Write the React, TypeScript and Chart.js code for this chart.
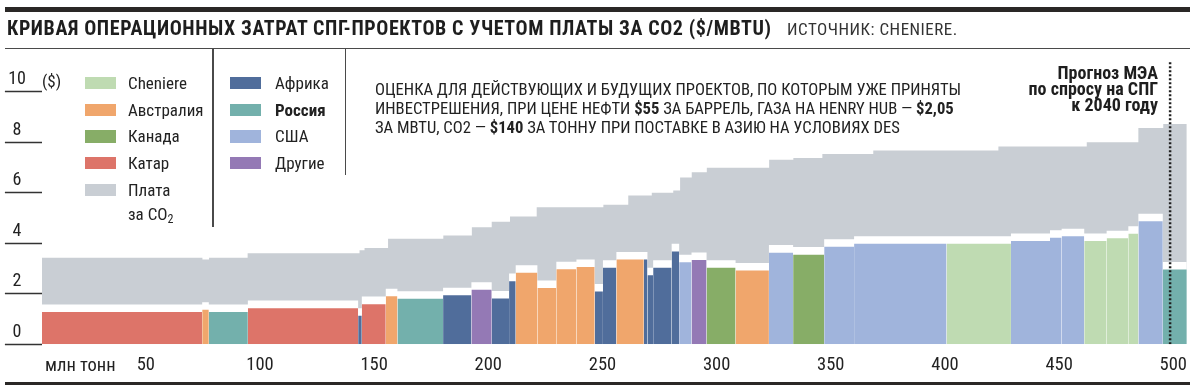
import React, { useEffect, useRef } from 'react';
import { Chart, registerables } from 'chart.js';

Chart.register(...registerables);

const FONT = "'Liberation Sans Narrow', 'Arial Narrow', 'Roboto Condensed', 'DejaVu Sans Condensed', sans-serif";

// Regions (legend order)
const regionNames = ['Cheniere', 'Австралия', 'Канада', 'Катар', 'Африка', 'Россия', 'США', 'Другие'];
const regionColors = ['#bfdbb2', '#f0a66c', '#87ad67', '#dd7469', '#506d9b', '#73b0ac', '#a0b4dc', '#9479b5'];
const co2Label = 'Плата за CO2';
const co2Color = '#c9ced4';

// Projects, left to right along the cost curve
const curveStart = 4.5; // млн тонн
const projectRegion = [3, 1, 5, 3, 4, 3, 1, 5, 4, 7, 4, 4, 1, 1, 1, 1, 4, 4, 1, 4, 4, 4, 4, 6, 7, 2, 1, 6, 2, 6, 6, 0, 6, 6, 6, 0, 0, 0, 6, 5];
const projectCapacity = [70.2, 2.9, 17.1, 48.3, 1.6, 10.5, 5.1, 20.0, 12.4, 8.9, 7.6, 2.9, 9.5, 8.3, 8.8, 8.0, 3.6, 5.9, 12.0, 1.6, 2.5, 8.1, 3.3, 5.4, 6.6, 12.7, 14.6, 10.6, 13.6, 13.1, 40.5, 28.2, 17.1, 5.1, 9.9, 9.8, 9.5, 4.4, 10.7, 10.5];
const projectOpex = [1.28, 1.37, 1.28, 1.43, 1.13, 1.59, 1.90, 1.80, 1.94, 2.16, 1.81, 2.50, 2.83, 2.23, 2.97, 3.06, 2.09, 3.03, 3.36, 3.36, 2.73, 3.03, 3.68, 3.25, 3.34, 3.03, 2.92, 3.63, 3.55, 3.86, 3.98, 3.98, 4.09, 4.22, 4.28, 4.09, 4.20, 4.38, 4.87, 2.96];

// Total cost incl. CO2 fee (grey step curve)
const co2StepX = [4.5, 74.8, 77.7, 94.6, 143.6, 145.8, 156.1, 180.3, 192.8, 201.5, 209.5, 221.2, 250.4, 261.3, 271.6, 281.0, 284.0, 289.1, 295.7, 323.0, 333.6, 346.3, 368.6, 423.4, 462.1, 484.7, 495.6];
const co2StepTop = [3.43, 3.36, 3.43, 3.61, 3.72, 3.81, 4.18, 4.31, 4.64, 4.85, 5.06, 5.43, 5.53, 5.89, 6.00, 6.09, 6.61, 6.81, 6.99, 7.31, 7.38, 7.54, 7.68, 7.83, 8.00, 8.57, 8.72];
const curveEnd = 505.9;

const demandMark = 498.6; // IEA 2040 demand
const xTickValues = [50, 100, 150, 200, 250, 300, 350, 400, 450, 500];
const yTickValues = [0, 2, 4, 6, 8, 10];
const Y_MAX = 11.2;
const GAP = 0.3; // white separation band (style)

function buildDatasets() {
  const starts: number[] = [];
  let acc = curveStart;
  for (const w of projectCapacity) {
    starts.push(acc);
    acc += w;
  }
  const ends = starts.map((s, i) => s + projectCapacity[i]);

  const grey = co2StepX.map((x, i) => ({ x, y: co2StepTop[i] }));
  grey.push({ x: curveEnd, y: co2StepTop[co2StepTop.length - 1] });

  const white = starts.map((x, i) => ({ x, y: projectOpex[i] + GAP }));
  white.push({ x: ends[ends.length - 1], y: projectOpex[projectOpex.length - 1] + GAP });

  const base = {
    type: 'line' as const,
    pointRadius: 0,
    borderWidth: 0,
    borderColor: 'rgba(0,0,0,0)',
    fill: 'origin' as const,
  };

  const datasets: any[] = [
    { ...base, label: co2Label, data: grey, stepped: 'before', backgroundColor: co2Color, order: 3 },
    { ...base, label: 'gap', data: white, stepped: 'before', backgroundColor: '#ffffff', order: 2 },
  ];

  regionNames.forEach((name, r) => {
    const pts: any[] = [];
    projectRegion.forEach((reg, i) => {
      if (reg !== r) return;
      pts.push({ x: starts[i], y: projectOpex[i] });
      pts.push({ x: ends[i], y: projectOpex[i] });
      pts.push({ x: ends[i], y: null });
    });
    datasets.push({ ...base, label: name, data: pts, backgroundColor: regionColors[r], order: 1, spanGaps: false });
  });

  datasets.push({
    type: 'line',
    label: 'demand',
    data: [{ x: demandMark, y: 0 }, { x: demandMark, y: Y_MAX }],
    borderColor: '#1f1f1f',
    borderWidth: 2.5,
    borderDash: [2, 2],
    pointRadius: 0,
    fill: false,
    order: 0,
  });
  return datasets;
}

const abs = (s: React.CSSProperties): React.CSSProperties => ({ position: 'absolute', whiteSpace: 'nowrap', fontFamily: FONT, color: '#222', ...s });

function LegendItem({ x, tx, baseline, color, label, bold }: { x: number; tx: number; baseline: number; color: string; label: React.ReactNode; bold?: boolean }) {
  return (
    <>
      <div style={abs({ left: x, top: baseline - 12.4, width: 31, height: 12.4, background: color })} />
      <div style={abs({ left: tx, top: baseline - 0.8465 * 17, fontSize: 17, lineHeight: '17px', fontWeight: bold ? 700 : 400 })}>{label}</div>
    </>
  );
}

export default function App() {
  const ref = useRef<HTMLCanvasElement>(null);
  useEffect(() => {
    if (!ref.current) return;
    const chart = new Chart(ref.current, {
      type: 'line',
      data: { datasets: buildDatasets() },
      options: {
        animation: false,
        responsive: false,
        maintainAspectRatio: false,
        events: [],
        layout: { padding: { left: 0, top: 61.5, right: 13, bottom: 14.7 } },
        plugins: { legend: { display: false }, tooltip: { enabled: false } },
        scales: {
          x: {
            type: 'linear',
            min: curveStart,
            max: 506,
            afterBuildTicks: (ax: any) => { ax.ticks = xTickValues.map((v) => ({ value: v })); },
            afterFit: (s: any) => { s.height = 30; },
            grid: { display: false, drawTicks: false },
            border: { display: false },
            ticks: { font: { family: FONT, size: 18.5 }, color: '#222', padding: 10, maxRotation: 0, autoSkip: false },
          },
          y: {
            type: 'linear',
            min: 0,
            max: Y_MAX,
            afterBuildTicks: (ax: any) => { ax.ticks = yTickValues.map((v) => ({ value: v })); },
            afterFit: (s: any) => { s.width = 41.9; },
            grid: { drawOnChartArea: false, drawTicks: true, tickLength: 37, tickWidth: 1.5, tickColor: '#333' },
            border: { display: false },
            ticks: { font: { family: FONT, size: 18 }, color: '#222', padding: -21, crossAlign: 'center', labelOffset: -12 },
          },
        },
      } as any,
    });
    return () => chart.destroy();
  }, []);

  const rows = [89.3, 116, 142.7, 169.3, 196];
  return (
    <div style={{ position: 'absolute', left: 0, top: 0, width: 1200, height: 389, background: '#fff', overflow: 'hidden' }}>
      <canvas ref={ref} width={1200} height={389} style={{ position: 'absolute', left: 0, top: 0, width: 1200, height: 389 }} />
      {/* rules */}
      <div style={abs({ left: 5, top: 7, width: 1185, height: 5, background: '#2a2826' })} />
      <div style={abs({ left: 5, top: 47.8, width: 1185, height: 1.4, background: '#4a4a4a' })} />
      <div style={abs({ left: 212, top: 48, width: 1.5, height: 179, background: '#4a4a4a' })} />
      <div style={abs({ left: 344.5, top: 48, width: 1.5, height: 127, background: '#4a4a4a' })} />
      <div style={abs({ left: 5, top: 381.5, width: 1185, height: 3, background: '#2a2826' })} />
      {/* title */}
      <div style={abs({ left: 7, top: 35 - 0.8465 * 20, fontSize: 20, lineHeight: '20px', letterSpacing: '0.6px', fontWeight: 700, color: '#1e1e1e' })}>
        КРИВАЯ ОПЕРАЦИОННЫХ ЗАТРАТ СПГ-ПРОЕКТОВ С УЧЕТОМ ПЛАТЫ ЗА CO2 ($/MBTU)
      </div>
      <div style={abs({ left: 787, top: 35 - 0.8465 * 17, fontSize: 17, lineHeight: '17px', letterSpacing: '0.5px', color: '#333' })}>ИСТОЧНИК: CHENIERE.</div>
      {/* legend col 1 */}
      <LegendItem x={85} tx={128} baseline={rows[0]} color={regionColors[0]} label={regionNames[0]} />
      <LegendItem x={85} tx={128} baseline={rows[1]} color={regionColors[1]} label={regionNames[1]} />
      <LegendItem x={85} tx={128} baseline={rows[2]} color={regionColors[2]} label={regionNames[2]} />
      <LegendItem x={85} tx={128} baseline={rows[3]} color={regionColors[3]} label={regionNames[3]} />
      <LegendItem x={85} tx={128} baseline={rows[4]} color={co2Color} label="Плата" />
      <div style={abs({ left: 128, top: 220 - 0.8465 * 17, fontSize: 17, lineHeight: '17px' })}>
        за CO<sub style={{ fontSize: 12, verticalAlign: '-3px', lineHeight: 0 }}>2</sub>
      </div>
      {/* legend col 2 */}
      <LegendItem x={230} tx={275} baseline={rows[0]} color={regionColors[4]} label={regionNames[4]} />
      <LegendItem x={230} tx={275} baseline={rows[1]} color={regionColors[5]} label={regionNames[5]} bold />
      <LegendItem x={230} tx={275} baseline={rows[2]} color={regionColors[6]} label={regionNames[6]} />
      <LegendItem x={230} tx={275} baseline={rows[3]} color={regionColors[7]} label={regionNames[7]} />
      {/* note */}
      <div style={abs({ left: 375, top: 79.5, fontSize: 16.6, lineHeight: '19.2px' })}>
        ОЦЕНКА ДЛЯ ДЕЙСТВУЮЩИХ И БУДУЩИХ ПРОЕКТОВ, ПО КОТОРЫМ УЖЕ ПРИНЯТЫ<br />
        ИНВЕСТРЕШЕНИЯ, ПРИ ЦЕНЕ НЕФТИ <b>$55</b> ЗА БАРРЕЛЬ, ГАЗА НА HENRY HUB — <b>$2,05</b><br />
        ЗА MBTU, CO2 — <b>$140</b> ЗА ТОННУ ПРИ ПОСТАВКЕ В АЗИЮ НА УСЛОВИЯХ DES
      </div>
      {/* forecast */}
      <div style={abs({ right: 42, top: 65, fontSize: 18, lineHeight: '16.2px', fontWeight: 700, textAlign: 'right', color: '#1e1e1e' })}>
        Прогноз МЭА<br />по спросу на СПГ<br />к 2040 году
      </div>
      {/* axis extras */}
      <div style={abs({ left: 42, top: 87 - 0.8465 * 17, fontSize: 17, lineHeight: '17px' })}>($)</div>
      <div style={abs({ left: 45, top: 372 - 0.8465 * 18.5, fontSize: 18.5, lineHeight: '18.5px' })}>млн тонн</div>
    </div>
  );
}
